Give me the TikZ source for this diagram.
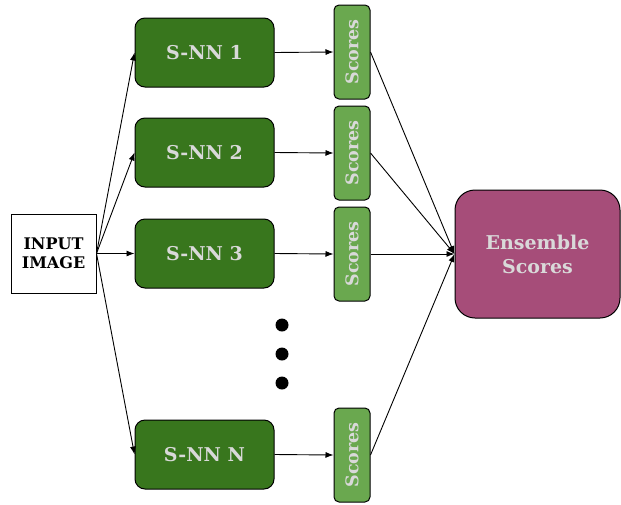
\documentclass[tikz,border=0pt]{standalone}
\usepackage{fontspec}
\setmainfont{DejaVu Serif}
\usetikzlibrary{arrows.meta}
\definecolor{dkgreen}{HTML}{38761D}
\definecolor{ltgreen}{HTML}{6AA84F}
\definecolor{plum}{HTML}{A64D79}
\definecolor{ltxt}{HTML}{D9D9D9}
\tikzset{
  snn/.style={draw=black, line width=1pt, fill=dkgreen, rounded corners=10pt,
    minimum width=139pt, minimum height=69pt, inner sep=0pt,
    text=ltxt, font=\bfseries\fontsize{19}{21}\selectfont},
  scorebox/.style={draw=black, line width=1pt, fill=ltgreen, rounded corners=5pt,
    minimum width=36pt, minimum height=94pt, inner sep=0pt},
  scoretxt/.style={text=ltxt, font=\bfseries\fontsize{17.5}{19}\selectfont, rotate=90, inner sep=0pt},
  conn/.style={line width=0.9pt, -{Latex[length=8pt,width=6pt]}},
  dot/.style={circle, fill=black, minimum size=13pt, inner sep=0pt}
}
\begin{document}
\begin{tikzpicture}[x=1pt,y=-1pt]
\useasboundingbox (0,0) rectangle (621,504);
\node[draw=black, line width=1pt, fill=white, minimum width=85pt, minimum height=79pt, inner sep=0pt,
  align=center, font=\bfseries\fontsize{16}{19}\selectfont] (in) at (53.5,253.5) {INPUT\\IMAGE};
\node[snn] (n1) at (204.5,52.5) {S-NN 1};
\node[snn] (n2) at (204.5,152.5) {S-NN 2};
\node[snn] (n3) at (204.5,253.5) {S-NN 3};
\node[snn] (nN) at (204.5,454.5) {S-NN N};
\node[scorebox] (s1) at (352,52) {};
\node[scorebox] (s2) at (352,153) {};
\node[scorebox] (s3) at (352,254) {};
\node[scorebox] (sN) at (352,455) {};
\foreach \s in {s1,s2,s3,sN} \node[scoretxt] at (\s) {Scores};
\node[draw=black, line width=1pt, fill=plum, rounded corners=20pt, minimum width=165pt, minimum height=128pt,
  inner sep=0pt, align=center, text=ltxt, font=\bfseries\fontsize{19}{24}\selectfont] (ens) at (537.5,254) {Ensemble\\Scores};
\node[dot] (d1) at (282,325) {};
\node[dot] (d2) at (282,354) {};
\node[dot] (d3) at (282,383) {};
\foreach \n in {n1,n2,n3,nN} \draw[conn] (in.east) -- (\n.west);
\draw[conn] (n1.east) -- (s1.west);
\draw[conn] (n2.east) -- (s2.west);
\draw[conn] (n3.east) -- (s3.west);
\draw[conn] (nN.east) -- (sN.west);
\foreach \s in {s1,s2,s3,sN} \draw[conn] (\s.east) -- (ens.west);
\end{tikzpicture}
\end{document}
